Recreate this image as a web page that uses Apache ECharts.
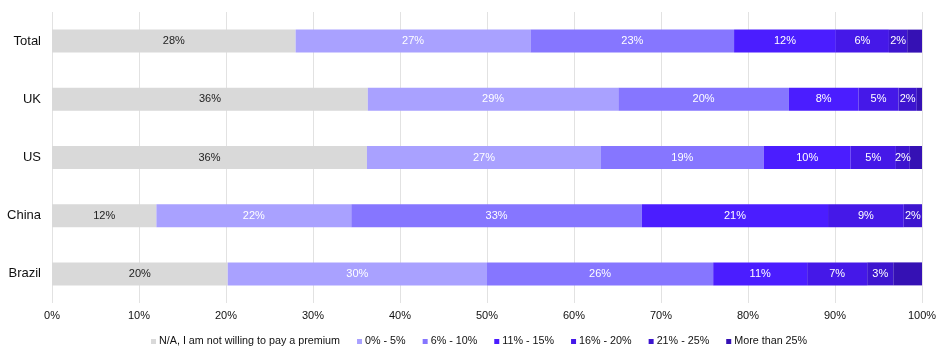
<!DOCTYPE html>
<html><head><meta charset="utf-8">
<script src="https://cdn.jsdelivr.net/npm/echarts@6/dist/echarts.min.js"></script>
<style>html,body{margin:0;padding:0;background:#fff}#c{width:950px;height:355px}</style>
</head><body><div id="c"></div>
<script>
const categories = ['Total', 'UK', 'US', 'China', 'Brazil'];
const seriesNames = ['N/A, I am not willing to pay a premium', '0% - 5%', '6% - 10%', '11% - 15%', '16% - 20%', '21% - 25%', 'More than 25%'];
const naValues = [28, 36.3, 36.2, 12, 20.2];
const p0to5 = [27, 28.8, 26.9, 22.4, 29.8];
const p6to10 = [23.4, 19.6, 18.7, 33.4, 26];
const p11to15 = [11.7, 8, 10, 21.4, 10.8];
const p16to20 = [6.1, 4.6, 5.2, 8.7, 6.9];
const p21to25 = [2.1, 2.1, 1.6, 2.1, 3];
const pOver25 = [1.7, 0.6, 1.4, 0, 3.3];
const xTicks = [0, 10, 20, 30, 40, 50, 60, 70, 80, 90, 100];

const allValues = [naValues, p0to5, p6to10, p11to15, p16to20, p21to25, pOver25];
const colors = ['#d9d9d9', '#a9a1ff', '#8676ff', '#4b1dff', '#4518e8', '#3d15cf', '#3511b4'];
const font = 'Liberation Sans, Arial, sans-serif';

const series = allValues.map((vals, i) => ({
  name: seriesNames[i],
  type: 'bar',
  stack: 'all',
  barWidth: 23,
  data: vals,
  itemStyle: { color: colors[i] },
  label: {
    show: i < 6,
    position: 'inside',
    color: i === 0 ? '#222' : '#fff',
    fontFamily: font,
    fontSize: 11,
    formatter: p => Math.round(p.value) + '%'
  }
}));

const chart = echarts.init(document.getElementById('c'));
chart.setOption({
  animation: false,
  color: colors,
  grid: { left: 52, right: 28, top: 12, bottom: 52, containLabel: false },
  xAxis: {
    type: 'value', min: 0, max: 100, interval: 10,
    axisLine: { show: false }, axisTick: { show: false },
    splitLine: { show: true, lineStyle: { color: '#e2e2e2', width: 1 } },
    axisLabel: { color: '#111', fontFamily: font, fontSize: 11, margin: 7,
      formatter: v => xTicks.includes(v) ? v + '%' : '' }
  },
  yAxis: {
    type: 'category', data: categories, inverse: true,
    axisLine: { show: false }, axisTick: { show: false },
    axisLabel: { color: '#111', fontFamily: font, fontSize: 13, margin: 11 }
  },
  legend: {
    top: 331, left: 146, itemWidth: 5, itemHeight: 5, itemGap: 17,
    icon: 'rect',
    textStyle: { color: '#111', fontFamily: font, fontSize: 10.75, padding: [0, 0, 0, -2] },
    data: seriesNames
  },
  series: series
});
</script></body></html>
